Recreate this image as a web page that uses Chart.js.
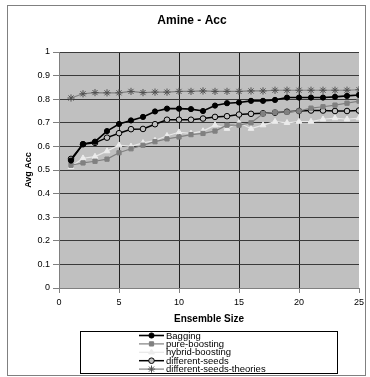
<!DOCTYPE html>
<html>
<head>
<meta charset="utf-8">
<script src="https://cdn.jsdelivr.net/npm/chart.js@4"></script>
<style>
  html, body { margin: 0; padding: 0; background: #fff; }
  #wrap { width: 370px; height: 377px; }
</style>
</head>
<body>
<div id="wrap"><canvas id="acc-chart"></canvas></div>
<script>
// Ensemble sizes and average accuracy per method
const ensembleSizes = [1,2,3,4,5,6,7,8,9,10,11,12,13,14,15,16,17,18,19,20,21,22,23,24,25];
const bagging = [0.54, 0.61, 0.62, 0.665, 0.695, 0.71, 0.725, 0.748, 0.76, 0.76, 0.758, 0.75, 0.773, 0.783, 0.786, 0.793, 0.793, 0.797, 0.807, 0.807, 0.807, 0.807, 0.81, 0.814, 0.818];
const pureBoosting = [0.52, 0.53, 0.537, 0.546, 0.573, 0.59, 0.605, 0.62, 0.632, 0.64, 0.65, 0.655, 0.665, 0.69, 0.69, 0.70, 0.738, 0.745, 0.745, 0.75, 0.762, 0.768, 0.775, 0.783, 0.792];
const hybridBoosting = [0.514, 0.55, 0.557, 0.58, 0.605, 0.60, 0.615, 0.625, 0.645, 0.66, 0.655, 0.665, 0.69, 0.675, 0.70, 0.675, 0.69, 0.705, 0.70, 0.705, 0.705, 0.715, 0.72, 0.715, 0.72];
const differentSeeds = [0.547, 0.609, 0.615, 0.637, 0.656, 0.673, 0.674, 0.694, 0.713, 0.713, 0.713, 0.718, 0.725, 0.728, 0.735, 0.738, 0.74, 0.743, 0.747, 0.75, 0.752, 0.752, 0.75, 0.75, 0.752];
const seedsTheories = [0.805, 0.823, 0.828, 0.827, 0.827, 0.833, 0.828, 0.83, 0.83, 0.833, 0.833, 0.835, 0.833, 0.833, 0.833, 0.835, 0.835, 0.838, 0.838, 0.838, 0.838, 0.838, 0.838, 0.838, 0.84];
const xTicks = [0, 5, 10, 15, 20, 25];

const FONT = '"Liberation Sans", Arial, sans-serif';

function pts(values) {
    return ensembleSizes.map((s, i) => ({ x: s, y: values[i] }));
}

// gray plot area, outer frame, titles and the boxed legend
const excelLook = {
    id: 'excelLook',
    beforeDraw(chart) {
        const { ctx, chartArea: a } = chart;
        ctx.save();
        ctx.fillStyle = '#c0c0c0';
        ctx.fillRect(a.left, a.top, a.right - a.left, a.bottom - a.top);
        ctx.restore();
    },
    afterDraw(chart) {
        const ctx = chart.ctx;
        ctx.save();
        ctx.strokeStyle = '#808080';
        ctx.lineWidth = 1;
        ctx.strokeRect(7.5, 5.5, 358, 370);

        ctx.fillStyle = '#000';
        ctx.textAlign = 'center';
        ctx.textBaseline = 'middle';
        ctx.font = 'bold 12px ' + FONT;
        ctx.fillText('Amine - Acc', 192, 21);
        ctx.font = 'bold 10px ' + FONT;
        ctx.fillText('Ensemble Size', 209, 319);
        ctx.save();
        ctx.translate(29, 170);
        ctx.rotate(-Math.PI / 2);
        ctx.font = 'bold 9px ' + FONT;
        ctx.fillText('Avg Acc', 0, 0);
        ctx.restore();

        // legend
        ctx.strokeStyle = '#000';
        ctx.lineWidth = 1;
        ctx.strokeRect(80.5, 331.5, 257, 42);
        ctx.font = '9.5px ' + FONT;
        ctx.textAlign = 'left';
        chart.data.datasets.forEach((ds, i) => {
            const y = 335.5 + i * 8.4;
            ctx.strokeStyle = ds.borderColor;
            ctx.lineWidth = ds.borderWidth;
            ctx.beginPath();
            ctx.moveTo(139, y);
            ctx.lineTo(164, y);
            ctx.stroke();
            ctx.fillStyle = ds.pointBackgroundColor;
            ctx.strokeStyle = ds.pointBorderColor;
            ctx.lineWidth = 1;
            Chart.helpers.drawPoint(ctx, {
                pointStyle: ds.pointStyle,
                radius: ds.pointRadius,
                borderWidth: 1
            }, 151.5, y);
            ctx.fillStyle = '#000';
            ctx.fillText(ds.label, 166, y + 0.5);
        });
        ctx.restore();
    }
};

function series(label, values, line, width, style, radius, fill, edge) {
    return {
        label: label,
        data: pts(values),
        borderColor: line,
        borderWidth: width,
        pointStyle: style,
        pointRadius: radius,
        pointBackgroundColor: fill,
        pointBorderColor: edge,
        pointBorderWidth: 1,
        tension: 0
    };
}

new Chart(document.getElementById('acc-chart'), {
    type: 'line',
    data: {
        datasets: [
            series('Bagging', bagging, '#000000', 1.6, 'circle', 2.6, '#000000', '#000000'),
            series('pure-boosting', pureBoosting, '#808080', 1.2, 'rect', 3, '#808080', '#808080'),
            series('hybrid-boosting', hybridBoosting, '#e8e8e8', 1.2, 'triangle', 3.3, '#ececec', '#ececec'),
            series('different-seeds', differentSeeds, '#000000', 1.5, 'circle', 2.8, '#c0c0c0', '#000000'),
            series('different-seeds-theories', seedsTheories, '#808080', 1.2, 'star', 3.6, '#606060', '#505050')
        ]
    },
    options: {
        responsive: true,
        maintainAspectRatio: false,
        animation: false,
        layout: { padding: { left: 0, top: 52, right: 11, bottom: 67 } },
        plugins: {
            legend: { display: false },
            title: { display: false },
            tooltip: { enabled: false }
        },
        scales: {
            x: {
                type: 'linear',
                min: 0,
                max: 25,
                afterFit: s => { s.height = 22; },
                afterBuildTicks: s => { s.ticks = xTicks.map(v => ({ value: v })); },
                ticks: { color: '#000', font: { family: FONT, size: 9 }, padding: 4, maxRotation: 0 },
                grid: {
                    color: c => (c.tick && (c.tick.value === 0 || c.tick.value === 25)) ? 'rgba(0,0,0,0)' : '#202020',
                    tickColor: '#808080',
                    tickLength: 5,
                    lineWidth: 1
                },
                border: { display: true, color: '#808080' }
            },
            y: {
                min: 0,
                max: 1,
                afterFit: s => { s.width = 59; },
                ticks: {
                    stepSize: 0.1,
                    color: '#000',
                    font: { family: FONT, size: 9 },
                    padding: 3,
                    callback: v => String(Math.round(v * 10) / 10)
                },
                grid: {
                    color: c => (c.tick && c.tick.value === 0) ? 'rgba(0,0,0,0)' : '#3a3a3a',
                    tickColor: '#808080',
                    tickLength: 6,
                    lineWidth: 1
                },
                border: { display: true, color: '#808080' }
            }
        }
    },
    plugins: [excelLook]
});
</script>
</body>
</html>
